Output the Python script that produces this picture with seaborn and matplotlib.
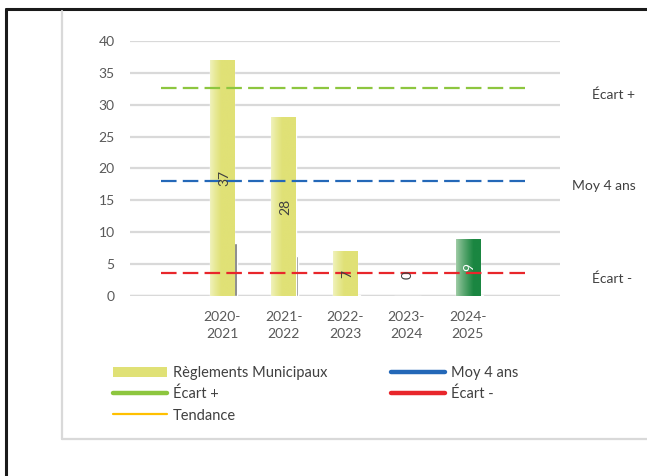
import numpy as np
import pandas as pd
import matplotlib
matplotlib.use("Agg")
import matplotlib.pyplot as plt
import seaborn as sns
from matplotlib.colors import to_rgb
from matplotlib.lines import Line2D
from matplotlib.patches import Patch

# --- data -------------------------------------------------------------
saisons = ["2020-\n2021", "2021-\n2022", "2022-\n2023", "2023-\n2024", "2024-\n2025"]
reglements = [37, 28, 7, 0, 9]
secondaire = [8.3, 6.3, 0.2, 0.0, 0.2]
moy_4_ans = 18.0
ecart_plus = 32.6
ecart_moins = 3.6
y_ticks = [0, 5, 10, 15, 20, 25, 30, 35, 40]

# --- style ------------------------------------------------------------
sns.set_theme(style="white")
plt.rcParams["font.family"] = ["Lato", "DejaVu Sans"]
TXT = "#595959"
GRID = "#D9D9D9"
C_YEL = "#E0E176"
C_YEL_L = "#F1F3C0"
C_GRN = "#1B8641"
C_GRN_L = "#A4CEA9"
C_PLUS = "#8DC63F"
C_MOY = "#2468B8"
C_MOINS = "#E8262B"
C_TEND = "#FFC000"

fig = plt.figure(figsize=(6.47, 4.76), dpi=100)
ax = fig.add_axes([0.201, 0.378, 0.6645, 0.5361])

df = pd.DataFrame({"saison": saisons, "reglements": reglements})
palette = {s: (C_GRN if i == len(saisons) - 1 else C_YEL) for i, s in enumerate(saisons)}
sns.barplot(data=df, x="saison", y="reglements", hue="saison", palette=palette,
            width=0.4, saturation=1, legend=False, ax=ax, zorder=3)


def gradient_fill(patch, left, right, stop):
    """Overlay a horizontal light-to-dark gradient clipped to a bar."""
    x0, y0 = patch.get_x(), patch.get_y()
    w, h = patch.get_width(), patch.get_height()
    if h <= 0:
        return
    t = np.linspace(0, 1, 128)
    k = np.clip(t / stop, 0, 1) ** 0.8
    l, r = np.array(to_rgb(left)), np.array(to_rgb(right))
    row = l[None, :] + (r - l)[None, :] * k[:, None]
    img = np.repeat(row[None, :, :], 2, axis=0)
    im = ax.imshow(img, extent=[x0, x0 + w, y0, y0 + h], aspect="auto",
                   interpolation="bilinear", zorder=3.5, origin="lower")
    im.set_clip_path(patch)


for i, patch in enumerate(ax.patches[:len(saisons)]):
    if i == len(saisons) - 1:
        gradient_fill(patch, C_GRN_L, C_GRN, 0.7)
    else:
        gradient_fill(patch, C_YEL_L, C_YEL, 0.45)

# thin secondary bars on the right edge of each column
xpos = np.arange(len(saisons))
ax.bar(xpos + 0.22, secondaire, width=0.04, color="#767676", zorder=3)

# reference lines
for val, col in [(ecart_plus, C_PLUS), (moy_4_ans, C_MOY), (ecart_moins, C_MOINS)]:
    ax.plot([-1, 5], [val, val], color=col, lw=1.6, dashes=(7, 2.8), zorder=4)

# value labels
for i, v in enumerate(reglements):
    col = "white" if i == len(saisons) - 1 else "#404040"
    if v > 0:
        ax.text(i + 0.03, v / 2, str(v), rotation=90, ha="center", va="center",
                fontsize=10, color=col, zorder=5)
    else:
        ax.annotate(str(v), (i, v), xytext=(1, 12), textcoords="offset points",
                    rotation=90, ha="center", va="bottom", fontsize=10,
                    color=col, zorder=5)

# axes
ax.set_xlim(-1.5, 5.5)
ax.set_ylim(0, 40)
ax.set_yticks(y_ticks)
ax.set_xlabel("")
ax.set_ylabel("")
ax.grid(axis="y", color=GRID, lw=1.6, zorder=0)
ax.axhline(0, color=GRID, lw=2.4, zorder=2)
for s in ax.spines.values():
    s.set_visible(False)
ax.tick_params(axis="y", length=0, pad=11, labelsize=10, labelcolor=TXT)
ax.tick_params(axis="x", length=0, pad=11, labelsize=10, labelcolor=TXT)
for lbl in ax.get_xticklabels():
    lbl.set_linespacing(1.45)
    lbl.set_multialignment("center")

# labels for the reference lines, right of the plot
for txt, xp, yp in [("Écart +", 614, 95), ("Moy 4 ans", 604, 186), ("Écart -", 612, 279)]:
    fig.text(xp / 647, 1 - yp / 476, txt, ha="center", va="center",
             fontsize=10, color="#404040")

# legend
handles = [
    Patch(facecolor=C_YEL, edgecolor="none"),
    Line2D([], [], color=C_PLUS, lw=3.2, solid_capstyle="round"),
    Line2D([], [], color=C_TEND, lw=1.6),
    Line2D([], [], color=C_MOY, lw=3.2, solid_capstyle="round"),
    Line2D([], [], color=C_MOINS, lw=3.2, solid_capstyle="round"),
]
labels = ["Règlements Municipaux", "Écart +", "Tendance", "Moy 4 ans", "Écart -"]
leg = fig.legend(handles, labels, ncol=2, loc="upper left",
                 bbox_to_anchor=(113 / 647, 1 - 366 / 476), frameon=False,
                 fontsize=10.5, handlelength=3.7, handleheight=0.7,
                 handletextpad=0.4, columnspacing=4.4, labelspacing=0.48,
                 borderpad=0, borderaxespad=0)
for t in leg.get_texts():
    t.set_color("#404040")

# outer frame
fig.add_artist(Line2D([6 / 647, 1], [1 - 9 / 476, 1 - 9 / 476], color="#1A1A1A", lw=2.2))
fig.add_artist(Line2D([6 / 647, 6 / 647], [0, 1 - 9 / 476], color="#1A1A1A", lw=2.2))
fig.add_artist(Line2D([62 / 647, 62 / 647], [1 - 439 / 476, 1 - 11 / 476], color=GRID, lw=1.6))
fig.add_artist(Line2D([62 / 647, 1], [1 - 439 / 476, 1 - 439 / 476], color=GRID, lw=1.6))

fig.savefig("out.png", dpi=100, facecolor="white")
